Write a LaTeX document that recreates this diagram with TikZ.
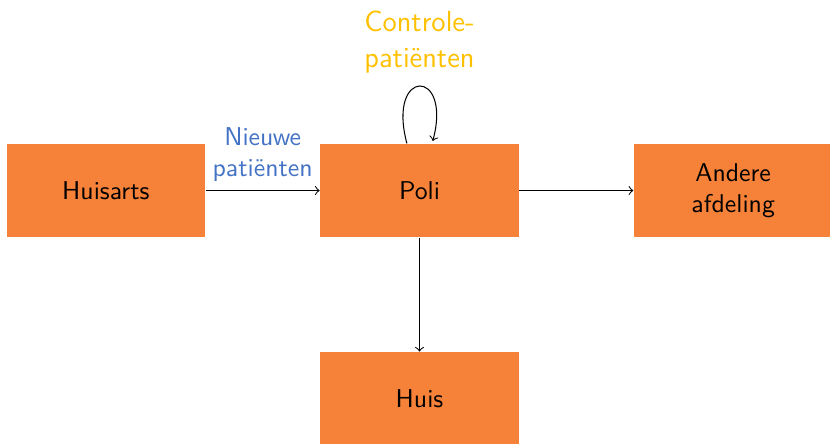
\documentclass[tikz,border=0pt]{standalone}
\usetikzlibrary{positioning}
\definecolor{boxorange}{RGB}{245,130,56}
\definecolor{newblue}{RGB}{68,114,196}
\definecolor{ctrlyellow}{RGB}{255,192,0}
\begin{document}
\begin{tikzpicture}[font=\sffamily, node distance=1.555cm,
    box/.style={fill=boxorange, minimum width=2.71cm, minimum height=1.27cm, align=center},
    flow/.style={->}]
    \useasboundingbox (-5.723,-3.445) rectangle (5.600,2.599);
    % Boxes
    \node[box] (poli) at (0,0) {Poli};
    \node[box, left=of poli] (huisarts) {Huisarts};
    \node[box, right=of poli] (andere) {Andere\\afdeling};
    \node[box, below=of poli] (huis) {Huis};

    % Arrows
    \draw[flow] (huisarts) -- node[above, align=center, text=newblue] {Nieuwe\\patiënten} (poli);
    \draw[flow] (poli) -- (andere);
    \draw[flow] (poli) -- (huis);
    \path[flow] (poli) edge[loop above] node[above, yshift=1.5pt, align=center, text=ctrlyellow,
        font=\sffamily\fontsize{11.3}{14}\selectfont] {Controle-\\patiënten} ();
\end{tikzpicture}
\end{document}
